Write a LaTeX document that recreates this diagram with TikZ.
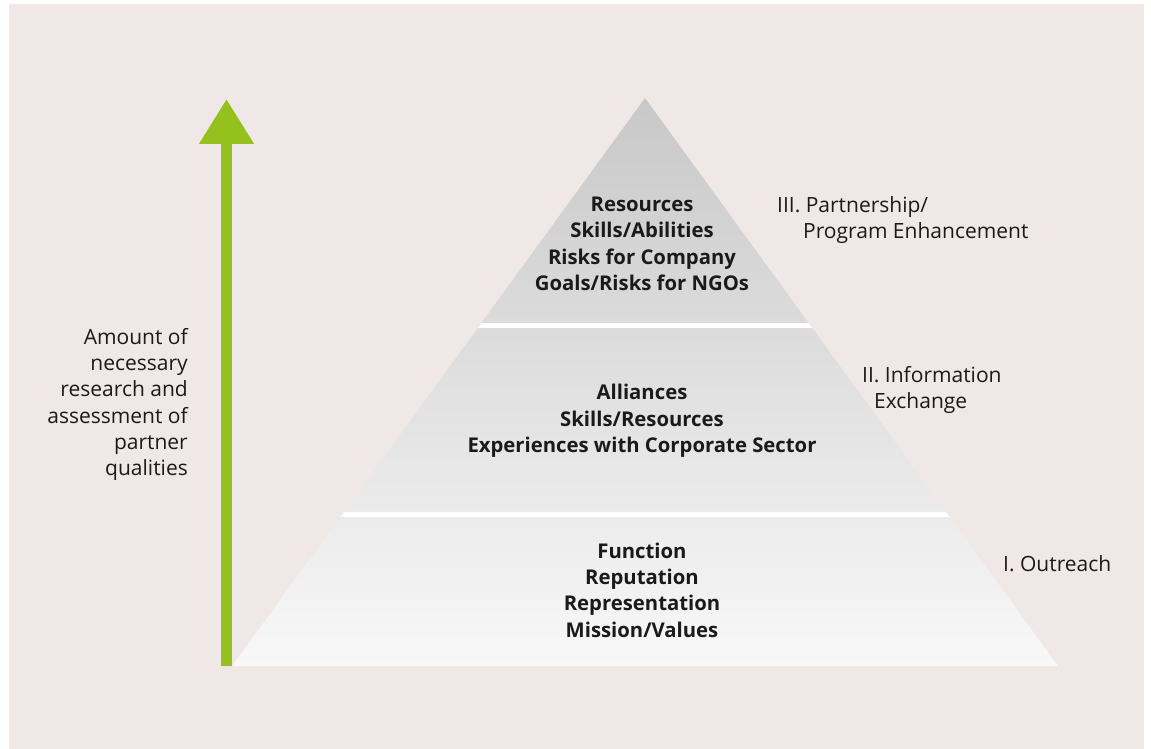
\documentclass[tikz,border=0pt]{standalone}
\usepackage{fontspec}
\setmainfont{Open Sans}
\usetikzlibrary{arrows.meta,calc}

\definecolor{bgpink}{RGB}{240,232,231}
\definecolor{arrowgreen}{RGB}{149,193,31}
\definecolor{textgray}{RGB}{26,26,26}

\tikzset{
  level/.style={font=\fontsize{20.3}{26.3}\selectfont\bfseries, text=textgray, align=center},
  stage/.style={font=\fontsize{21}{26.3}\selectfont, text=textgray, align=left, anchor=north west, inner sep=0pt},
  axislabel/.style={font=\fontsize{21}{26.3}\selectfont, text=textgray, align=right, anchor=north east, inner sep=0pt}
}

\begin{document}
\begin{tikzpicture}[x=1pt,y=-1pt]
    \useasboundingbox (0,0) rectangle (1151,749);
    \fill[white] (0,0) rectangle (1151,749);
    \fill[bgpink] (9,4) rectangle (1144,749);

    % Pyramid
    \coordinate (apex) at (645,98);
    \coordinate (bl) at (232,666);
    \coordinate (br) at (1058,666);
    \shade[top color={rgb,255:red,200;green,200;blue,200}, bottom color={rgb,255:red,248;green,248;blue,248}]
        (apex) -- (bl) -- (br) -- cycle;
    \begin{scope}
        \clip (apex) -- (bl) -- (br) -- cycle;
        \draw[white, line width=5pt] (0,325.5) -- (1151,325.5);
        \draw[white, line width=5pt] (0,514.5) -- (1151,514.5);
    \end{scope}

    % Arrow
    \draw[arrowgreen, line width=11pt, -{Triangle[width=52pt,length=45pt]}] (226.5,666) -- (226.5,99);

    \node[level] (top) at (642,244) {Resources\\Skills/Abilities\\Risks for Company\\Goals/Risks for NGOs};
    \node[level] (mid) at (642,421) {Alliances\\Skills/Resources\\Experiences with Corporate Sector};
    \node[level] (low) at (642,590) {Function\\Reputation\\Representation\\Mission/Values};

    % Stages
    \node[stage] (s3) at (777,196) {III. Partnership/\\\hspace*{26pt}Program Enhancement};
    \node[stage] (s2) at (862,366) {II. Information\\\hspace*{12pt}Exchange};
    \node[stage] (s1) at (1003,555) {I. Outreach};

    \node[axislabel] (amount) at (188,328) {Amount of\\necessary\\research and\\assessment of\\partner\\qualities};
\end{tikzpicture}
\end{document}
